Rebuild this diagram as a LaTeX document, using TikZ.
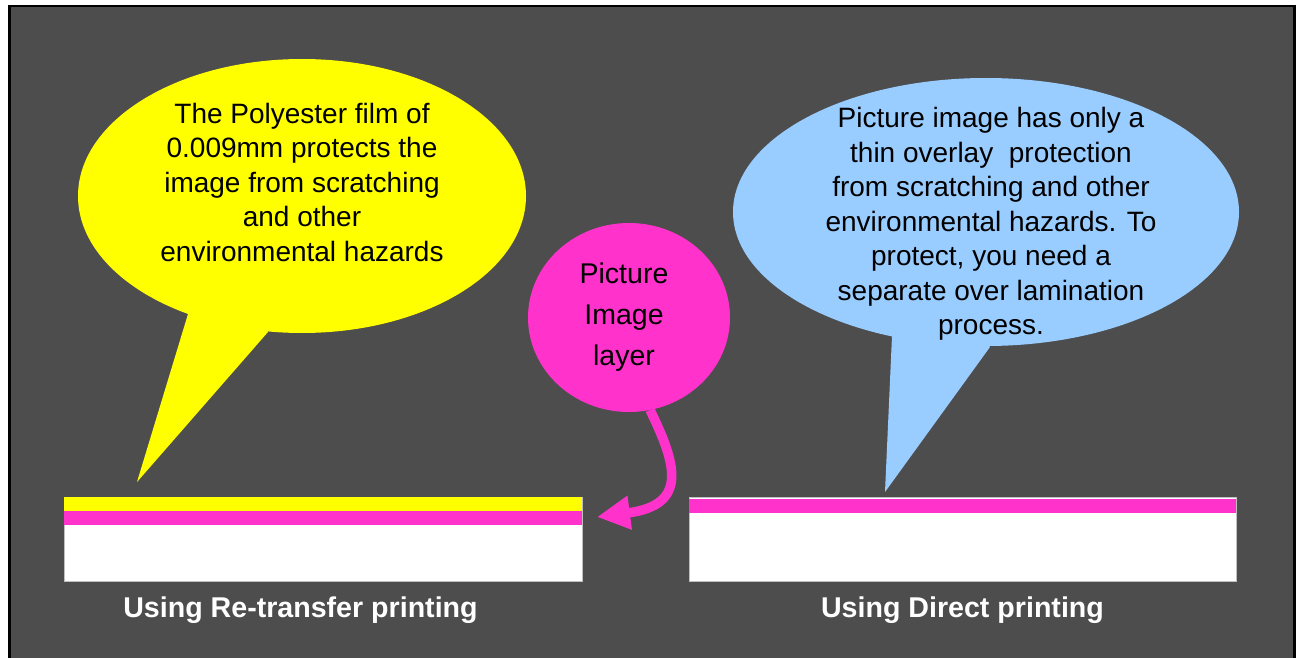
\documentclass[tikz,border=0pt]{standalone}
\usepackage{fontspec}
\setmainfont{Liberation Sans}
\usetikzlibrary{arrows.meta,shapes.geometric}
\definecolor{bggray}{HTML}{4D4D4D}
\definecolor{cyellow}{HTML}{FFFF00}
\definecolor{cpink}{HTML}{FF33CC}
\definecolor{cblue}{HTML}{99CCFF}
\definecolor{outl}{HTML}{BFBFBF}
\begin{document}
\begin{tikzpicture}[x=1pt,y=-1pt,
  bubbletext/.style={align=center,inner sep=0pt,font=\fontsize{28}{34.5}\selectfont,text=black},
  caption/.style={inner sep=0pt,font=\fontsize{28.6}{34}\selectfont\bfseries,text=white,anchor=base},
  blob/.style={ellipse,inner sep=0pt,draw=none},
  bar/.style={draw=outl,line width=0.8pt}
]
\useasboundingbox (0,0) rectangle (1298,658);
\fill[white] (0,0) rectangle (1298,658);
\path[fill=bggray,draw=black,line width=2.5pt] (9.25,6.25) rectangle (1294.5,690);

% yellow callout
\coordinate (ytl) at (188,314);
\coordinate (ytip) at (137,482);
\coordinate (ytr) at (268,332);
\coordinate (yin) at (240,260);
\fill[cyellow] (ytl) -- (ytip) -- (ytr) -- (yin) -- cycle;
\node[blob,fill=cyellow,minimum width=448pt,minimum height=274pt] (yb) at (302,196) {};
\node[bubbletext] (yt) at (302,182) {The Polyester film of\\0.009mm protects the\\image from scratching\\and other\\environmental hazards};

% blue callout
\coordinate (btl) at (892,336);
\coordinate (btip) at (885,492);
\coordinate (btr) at (990,347);
\coordinate (bin) at (940,290);
\fill[cblue] (btl) -- (btip) -- (btr) -- (bin) -- cycle;
\node[blob,fill=cblue,minimum width=506pt,minimum height=268pt] (bb) at (986,212) {};
\node[bubbletext] (bt) at (991,224) {Picture image has only a\\thin overlay\ \ protection\\from scratching and other\\environmental hazards. To\\protect, you need a\\separate over lamination\\process.};

% pink circle
\node[blob,fill=cpink,minimum width=202pt,minimum height=189pt] (pc) at (629,317.5) {};
\node[bubbletext,font=\fontsize{28.5}{41}\selectfont] (pt) at (624,317) {Picture\\Image\\layer};

% left strip
\path[bar,fill=white] (64,497) rectangle (582,581);
\fill[cyellow] (64.4,497.4) rectangle (581.6,511);
\fill[cpink] (64.4,511) rectangle (581.6,525);

% right strip
\path[bar,fill=white] (689,497) rectangle (1236,581.5);
\fill[cpink] (689.4,499.3) rectangle (1235.6,512.7);

% pink arrow
\coordinate (atip) at (597,517);
\draw[cpink,line width=9.5pt,-{Triangle[length=33pt,width=32pt]}] (650,410) .. controls (677,465) and (688,505) .. (atip);

% captions
\node[caption] (c1) at (300.5,617) {Using Re-transfer printing};
\node[caption] (c2) at (962.5,617) {Using Direct printing};
\end{tikzpicture}
\end{document}
